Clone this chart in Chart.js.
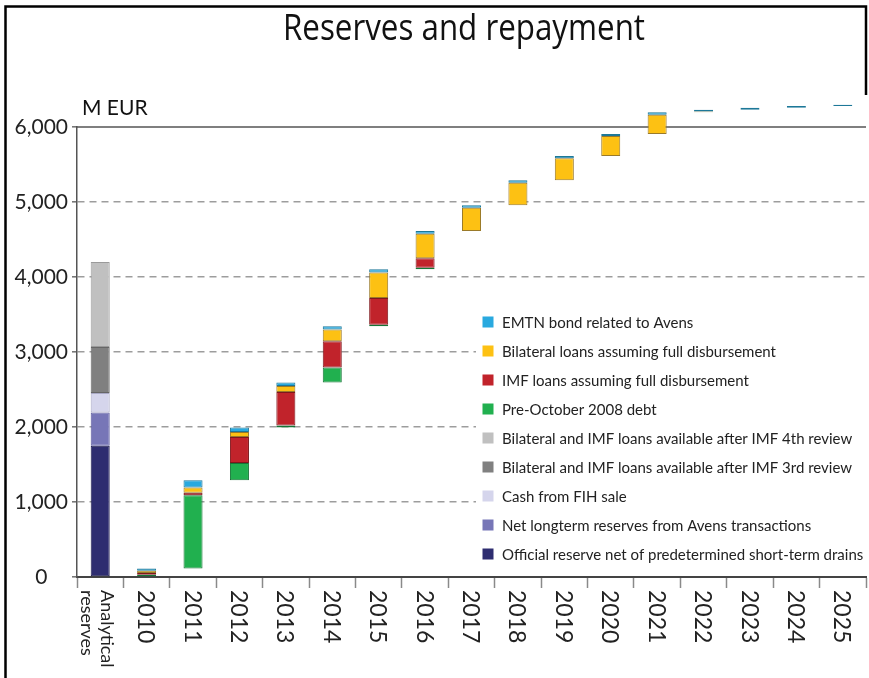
<!DOCTYPE html>
<html><head><meta charset="utf-8">
<script src="https://cdn.jsdelivr.net/npm/chart.js@4.4.0/dist/chart.umd.min.js"></script>
<style>html,body{margin:0;padding:0;background:#fff;}canvas{display:block;}</style>
</head><body>
<canvas id="c" width="869" height="678"></canvas>
<script>
// ---- data (M EUR) ----
const categories = [['Analytical','reserves'],'2010','2011','2012','2013','2014','2015','2016','2017','2018','2019','2020','2021','2022','2023','2024','2025'];
// analytical reserves components
const official    = [1750,0,0,0,0,0,0,0,0,0,0,0,0,0,0,0,0];
const netLongterm = [442,0,0,0,0,0,0,0,0,0,0,0,0,0,0,0,0];
const cashFIH     = [261,0,0,0,0,0,0,0,0,0,0,0,0,0,0,0,0];
const review3     = [614,0,0,0,0,0,0,0,0,0,0,0,0,0,0,0,0];
const review4     = [1133,0,0,0,0,0,0,0,0,0,0,0,0,0,0,0,0];
// repayments per year
const preOct    = [0,30,977,231,25,200,22,22,0,0,0,0,0,0,0,0,0];
const imf       = [0,22,36,347,447,351,355,124,0,0,0,0,0,0,0,0,0];
const bilateral = [0,30,67,66,80,156,339,329,312,301,293,267,257,10,0,0,0];
const emtn      = [0,30,97,62,45,44,44,35,31,32,31,28,31,25,26,22,18];
const yTicks = [0,1000,2000,3000,4000,5000,6000];
const yMax = 6000;
const unitLabel = 'M EUR';
const titleText = 'Reserves and repayment';

const seriesInfo = [
  {label:'EMTN bond related to Avens', data:emtn, color:'#29a9df', border:'#1d7898'},
  {label:'Bilateral loans assuming full disbursement', data:bilateral, color:'#fdc113', border:'#9a7a2a'},
  {label:'IMF loans assuming full disbursement', data:imf, color:'#c1232b', border:'#7e171c'},
  {label:'Pre-October 2008 debt', data:preOct, color:'#21b04f', border:'#157535'},
  {label:'Bilateral and IMF loans available after IMF 4th review', data:review4, color:'#c0c0c0', border:'#9a9a9a'},
  {label:'Bilateral and IMF loans available after IMF 3rd review', data:review3, color:'#808080', border:'#666666'},
  {label:'Cash from FIH sale', data:cashFIH, color:'#d5d5ec', border:'#a9a9c6'},
  {label:'Net longterm reserves from Avens transactions', data:netLongterm, color:'#7776b7', border:'#57569a'},
  {label:'Official reserve net of predetermined short-term drains', data:official, color:'#2e2d70', border:'#1c1b4c'}
];
// stacking order bottom -> top
const stackOrder = [official, netLongterm, cashFIH, review3, review4, preOct, imf, bilateral, emtn];

// build floating [start,end] ranges (waterfall)
const floats = new Map(stackOrder.map(a => [a, []]));
let cum = 0;
categories.forEach((c, i) => {
  let start = (i === 0) ? 0 : cum;
  stackOrder.forEach(arr => {
    const v = arr[i];
    if (v > 0) { floats.get(arr).push([start, start + v]); start += v; }
    else floats.get(arr).push(null);
  });
  if (i > 0) cum = start;
});

const datasets = seriesInfo.map(s => ({
  label: s.label,
  data: floats.get(s.data),
  backgroundColor: s.color,
  borderColor: s.border,
  borderWidth: 1,
  borderSkipped: false,
  grouped: false,
  barPercentage: 0.41,
  categoryPercentage: 1.0,
  clip: false
}));

const FONT = 'Lato, "Open Sans", sans-serif';

const decor = {
  id: 'decor',
  beforeDatasetsDraw(chart) {
    const {ctx, chartArea} = chart;
    const y = chart.scales.y.getPixelForValue(yMax);
    ctx.save();
    ctx.strokeStyle = '#555';
    ctx.lineWidth = 1.5;
    ctx.beginPath(); ctx.moveTo(chartArea.left, y); ctx.lineTo(chartArea.right, y); ctx.stroke();
    // legend background (covers gridlines)
    ctx.fillStyle = '#fff';
    ctx.fillRect(476, 306, chartArea.right - 476, 262);
    ctx.restore();
  },
  afterDraw(chart) {
    const {ctx, chartArea} = chart;
    const xs = chart.scales.x;
    ctx.save();
    // frame
    ctx.strokeStyle = '#000'; ctx.lineWidth = 2.5;
    ctx.beginPath(); ctx.moveTo(5.5, 678); ctx.lineTo(5.5, 6.5); ctx.lineTo(866, 6.5); ctx.lineTo(866, 95); ctx.stroke();
    // title (condensed to reference width)
    ctx.fillStyle = '#111';
    ctx.font = '37px "Open Sans", Lato, sans-serif';
    ctx.textAlign = 'center'; ctx.textBaseline = 'alphabetic';
    const tw = ctx.measureText(titleText).width;
    ctx.save();
    ctx.translate(464, 40);
    ctx.scale(362 / tw, 1);
    ctx.fillText(titleText, 0, 0);
    ctx.restore();
    // unit
    ctx.font = '21px ' + FONT; ctx.textAlign = 'left';
    ctx.fillText(unitLabel, chartArea.left + 5, chartArea.top - 12);
    // x labels rotated clockwise
    ctx.fillStyle = '#222';
    categories.forEach((lab, i) => {
      const cx = xs.getPixelForValue(i);
      ctx.save();
      ctx.translate(cx, xs.top + 13);
      ctx.rotate(Math.PI / 2);
      ctx.textAlign = 'left'; ctx.textBaseline = 'middle';
      if (Array.isArray(lab)) {
        ctx.font = '18px ' + FONT;
        ctx.fillText(lab[0], 0, -7);
        ctx.fillText(lab[1], 0, 13);
      } else {
        ctx.font = '23px ' + FONT;
        ctx.fillText(lab, 0, 1);
      }
      ctx.restore();
    });
    // legend
    ctx.font = '15px ' + FONT;
    ctx.textAlign = 'left'; ctx.textBaseline = 'middle';
    chart.data.datasets.forEach((ds, k) => {
      const yc = 322 + k * 29;
      ctx.fillStyle = ds.backgroundColor;
      ctx.fillRect(482.5, yc - 5.5, 11, 11);
      ctx.fillStyle = '#222';
      ctx.fillText(ds.label, 502, yc + 1);
    });
    ctx.restore();
  }
};

new Chart(document.getElementById('c'), {
  type: 'bar',
  data: { labels: categories, datasets },
  plugins: [decor],
  options: {
    responsive: false,
    animation: false,
    events: [],
    layout: { padding: { left: 5, right: 3, top: 127, bottom: 0 } },
    plugins: { legend: { display: false }, title: { display: false }, tooltip: { enabled: false } },
    scales: {
      x: {
        ticks: { display: false },
        grid: { display: true, offset: true, drawOnChartArea: false, drawTicks: true, tickLength: 11, tickColor: '#8a8a8a', tickWidth: 1.5 },
        border: { display: true, color: '#444', width: 2 },
        afterFit(s) { s.height = 101; }
      },
      y: {
        min: 0, max: yMax,
        afterBuildTicks(s) { s.ticks = yTicks.map(v => ({ value: v })); },
        ticks: {
          font: { family: FONT, size: 21 }, color: '#222', padding: 4, crossAlign: 'center',
          callback: v => v.toLocaleString('en-US')
        },
        grid: {
          color: c => (c.tick && (c.tick.value === 0 || c.tick.value === yMax)) ? 'rgba(0,0,0,0)' : '#9d9d9d',
          lineWidth: 1.6, drawTicks: true, tickLength: 5, tickColor: '#777'
        },
        border: { display: true, color: '#555', width: 1.5, dash: [7, 5] },
        afterFit(s) { s.width = 72; }
      }
    }
  }
});
</script>
</body></html>
